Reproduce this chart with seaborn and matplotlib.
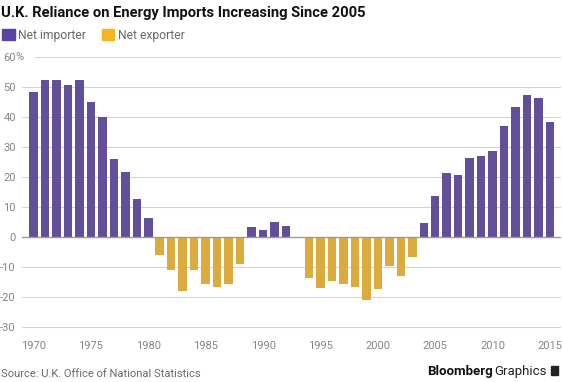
import pandas as pd
import matplotlib.pyplot as plt
import seaborn as sns

# ---------------------
# Data (net energy imports as % of consumption)
# ---------------------
years = list(range(1970, 2016))
values = [48.2, 52.4, 52.3, 50.8, 52.4, 45.0, 40.1, 26.1, 21.7, 12.7,
          6.4, -6.0, -11.0, -18.0, -11.0, -15.8, -16.8, -15.8, -9.0, 3.4,
          2.3, 4.9, 3.8, -0.3, -13.8, -17.0, -14.8, -15.7, -16.6, -20.9,
          -17.2, -9.7, -12.9, -6.8, 4.6, 13.7, 21.4, 20.8, 26.4, 27.1,
          28.8, 36.9, 43.3, 47.3, 46.4, 38.3]
tick_years = [1970, 1975, 1980, 1985, 1990, 1995, 2000, 2005, 2010, 2015]
y_ticks = [-30, -20, -10, 0, 10, 20, 30, 40, 50, 60]
groups = ['Net importer', 'Net exporter']
colors = ['#5b43a6', '#f8b323']

df = pd.DataFrame({'year': years, 'value': values})
df['status'] = [groups[0] if v > 0 else groups[1] for v in values]

# ---------------------
# Plot
# ---------------------
sns.set_style("white")
plt.rcParams['font.family'] = ['Roboto', 'DejaVu Sans']
plt.rcParams['axes.unicode_minus'] = False

fig = plt.figure(figsize=(5.62, 3.82), dpi=100)
ax = fig.add_axes([22 / 562, 55 / 382, 538 / 562, 270 / 382])

sns.barplot(data=df, x='year', y='value', hue='status', hue_order=groups,
            palette=colors, dodge=False, width=0.74, ax=ax, legend=False,
            linewidth=0)

ax.set_ylim(-30, 60)
ax.set_xlim(-1.0, len(years) - 1 + 0.87)
ax.set_yticks(y_ticks)
ax.set_yticklabels([str(t) for t in y_ticks])
ax.set_xticks([years.index(y) for y in tick_years])
ax.set_xticklabels([str(y) for y in tick_years])
ax.tick_params(axis='both', length=0, labelsize=8, labelcolor='#858585')
ax.tick_params(axis='y', pad=4.5)
ax.tick_params(axis='x', pad=10)
ax.set_xlabel('')
ax.set_ylabel('')

# gridlines; the top one starts after the "60%" label
for t in y_ticks:
    start = 13 / 538 if t == 60 else 0
    ax.axhline(t, xmin=start, color='#9a9a9a' if t == 0 else '#d4d4d4',
               lw=1.0 if t == 0 else 0.8, zorder=0 if t else 3, clip_on=False)
ax.annotate('%', xy=(0, 60), xycoords=ax.get_yaxis_transform(),
            xytext=(-4.6, 0), textcoords='offset points', fontsize=8,
            color='#858585', ha='left', va='center')
for s in ax.spines.values():
    s.set_visible(False)

# Legend
handles = [plt.Rectangle((0, 0), 1, 1, color=c) for c in colors]
fig.legend(handles, groups, loc='upper left', bbox_to_anchor=(-0.016, 0.953),
           ncol=2, frameon=False, fontsize=8.7, handlelength=1.05,
           handleheight=1.05, handletextpad=0.3, columnspacing=1.3,
           labelcolor='#6a6a6a')

# Titles and footer
fig.text(0.002, 0.985, 'U.K. Reliance on Energy Imports Increasing Since 2005',
         fontsize=10.6, fontweight='bold', color='#111111', va='top', ha='left')
fig.text(0.002, 0.008, 'Source: U.K. Office of National Statistics',
         fontsize=8, color='#6a6a6a', va='bottom', ha='left')

g = fig.text(547 / 562, 0.01, 'Graphics', fontsize=9.5,
             color='#222222', va='bottom', ha='right')
fig.canvas.draw()
gx = g.get_window_extent().x0
fig.text((gx - 2) / 562, 0.01, 'Bloomberg', fontsize=9.5, fontweight='bold',
         color='#111111', va='bottom', ha='right')
fig.patches.append(plt.Rectangle((551 / 562, 7 / 382), 7 / 562, 9 / 382,
                                 transform=fig.transFigure, color='#222222'))

fig.savefig('out.png', dpi=100)
